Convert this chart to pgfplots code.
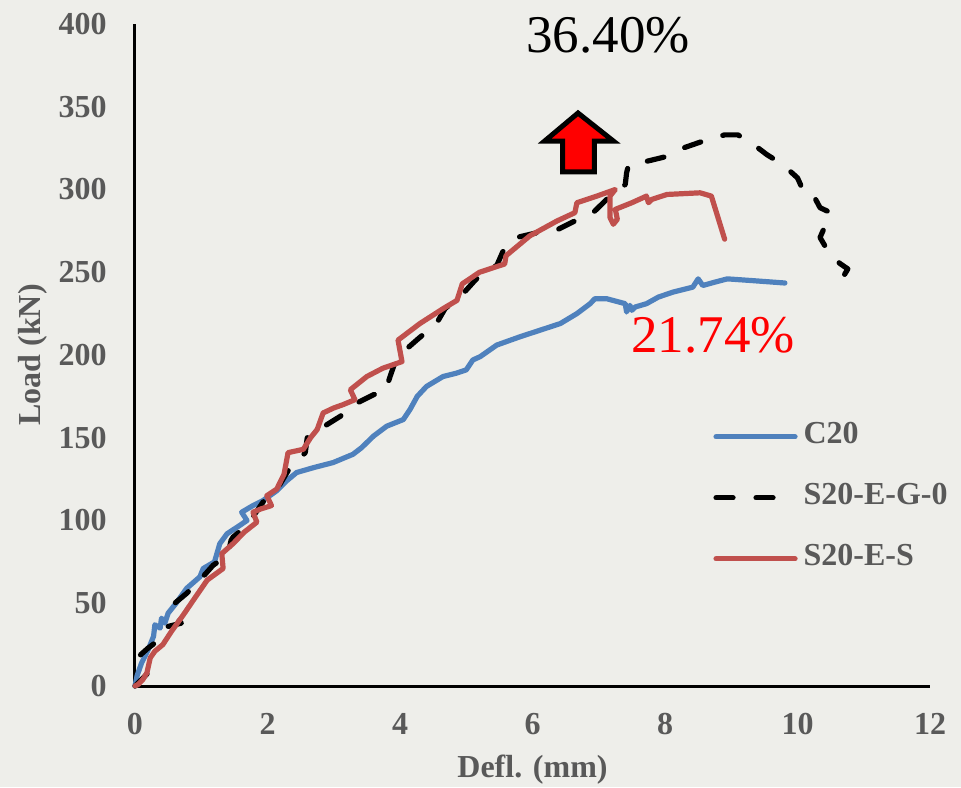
\documentclass[border=0pt]{standalone}
\usepackage{pgfplots}
\pgfplotsset{compat=1.18}
\usepackage{fontspec}
\setmainfont{Liberation Serif}
\definecolor{bg}{RGB}{238,238,234}
\definecolor{tgray}{RGB}{89,89,89}
\definecolor{cblue}{RGB}{79,129,189}
\definecolor{cred}{RGB}{192,80,77}
\begin{document}
\begin{tikzpicture}
\fill[bg] (-67.5pt,-50.5pt) rectangle (413pt,343pt);
\begin{axis}[
  at={(0,0)}, anchor=south west,
  scale only axis, width=397.5pt, height=331pt,
  xmin=0, xmax=12, ymin=0, ymax=400,
  axis x line=bottom, axis y line=left,
  axis line style={-, line width=1.5pt, black},
  xtick={0,2,...,12}, ytick={0,50,...,400},
  major tick length=0pt,
  clip=false,
  /pgf/number format/assume math mode=true,
  tick label style={font=\fontsize{16}{19}\selectfont\bfseries, text=tgray},
  yticklabel style={anchor=east, inner sep=0pt, xshift=-14pt},
  xticklabel style={anchor=north, inner sep=0pt, yshift=-13.5pt},
  xlabel={Defl. (mm)}, ylabel={Load (kN)},
  label style={font=\fontsize{16}{19}\selectfont\bfseries, text=tgray},
  xlabel style={at={(axis description cs:0.5,-0.1269)}, anchor=center},
  ylabel style={at={(axis description cs:-0.1283,0.5)}, anchor=center},
  legend style={at={(axis cs:8.725,155.3)}, anchor=north west, draw=none, fill=none,
    inner sep=0pt, row sep=23pt, column sep=3pt,
    font=\fontsize{16}{19}\selectfont\bfseries,
    nodes={inner sep=0pt, text height=0.7em, text depth=0.05em, text=tgray},
    cells={anchor=west}},
  legend image code/.code={\draw[#1] (0pt,0pt) -- (39.5pt,0pt);},
]
\addplot[cblue, line width=2.6pt, line cap=round, line join=round] coordinates {
(0,0) (0.03,6) (0.1,14) (0.2,22) (0.28,30) (0.3,37) (0.38,35) (0.4,41) (0.45,38) (0.5,44)
(0.62,50) (0.78,59) (0.98,66) (1.03,71) (1.2,75) (1.28,86) (1.39,92) (1.58,97) (1.69,100)
(1.61,105) (1.78,109) (1.93,112) (2.14,118) (2.29,124) (2.44,129) (2.7,132) (2.99,135)
(3.29,140) (3.42,144) (3.6,151) (3.8,157) (4.05,161) (4.15,167) (4.26,175) (4.4,181)
(4.65,187) (4.85,189) (5.0,191) (5.1,197) (5.21,199) (5.46,206) (5.81,211) (6.42,219)
(6.67,225) (6.87,231) (6.94,234) (7.12,234) (7.4,231) (7.42,226) (7.47,230) (7.5,227)
(7.55,229) (7.72,231) (7.9,235) (8.12,238) (8.42,241) (8.5,246) (8.57,242) (8.75,244)
(8.94,246) (9.3,245) (9.81,243.5)
};
\addplot[black, line width=2.6pt, line cap=round, line join=round, dash pattern=on 8.5pt off 11.5pt] coordinates {
(0,0) (0.1,4) (0.2,8) (0.08,15) (0.06,18) (0.2,23) (0.3,26) (0.4,30) (0.5,36) (0.7,38)
(0.6,42) (0.53,46) (0.6,50) (0.78,56) (0.98,64) (1.18,73) (1.4,79) (1.45,88) (1.48,90)
(1.69,97) (1.93,111) (2.19,122) (2.31,130) (2.57,141) (2.6,150) (2.9,158) (3.1,163)
(3.3,170) (3.6,176) (3.78,178) (3.85,187) (3.92,195) (4.08,203) (4.28,210) (4.55,219)
(4.68,228) (4.95,237) (5.13,245) (5.3,252) (5.46,254) (5.58,265) (5.76,271) (6.08,274)
(6.39,276) (6.69,282) (6.94,287) (7.17,296) (7.4,303) (7.42,310) (7.45,315) (7.72,317)
(8.03,320) (8.27,325) (8.63,330) (8.9,333) (9.1,333) (9.31,328) (9.54,321) (9.78,315)
(10.0,307) (10.09,299) (10.22,298) (10.34,289) (10.5,286) (10.46,282) (10.34,271)
(10.5,260) (10.65,255) (10.76,252) (10.7,248) (10.61,245)
};
\addplot[cred, line width=2.6pt, line cap=round, line join=round] coordinates {
(0,0) (0.05,1) (0.12,4) (0.18,8) (0.23,17) (0.3,21) (0.42,25) (0.55,33) (0.73,43) (0.9,53)
(1.09,64) (1.33,71) (1.31,80) (1.48,86) (1.65,93) (1.84,99) (1.78,105) (1.9,107) (2.06,109)
(1.99,115) (2.14,119) (2.25,128) (2.31,141) (2.54,143) (2.65,150) (2.75,155) (2.84,165)
(3.0,168) (3.14,170) (3.32,173) (3.25,179) (3.5,187) (3.74,192) (4.03,196) (3.97,209)
(4.3,219) (4.65,228) (4.86,233) (4.94,243) (5.2,250) (5.58,255) (5.6,260) (5.96,272)
(6.37,281) (6.64,286) (6.67,292) (6.97,296) (7.25,300) (7.17,296) (7.17,283) (7.22,279)
(7.28,282) (7.25,288) (7.5,292) (7.72,296) (7.75,292) (7.8,294) (8.03,297) (8.53,298)
(8.7,296) (8.9,270)
};
\legend{C20,S20-E-G-0,S20-E-S}
\node[font=\fontsize{26.5}{30}\selectfont, inner sep=0pt] at (axis cs:7.14,393.4) {36.40\%};
\node[font=\fontsize{26.5}{30}\selectfont, inner sep=0pt, text=red] at (axis cs:8.725,212.1) {21.74\%};
\draw[line width=2.5pt, fill=red, line join=miter] (axis cs:6.687,346.2) -- (axis cs:7.220,329.3)
  -- (axis cs:6.935,329.3) -- (axis cs:6.935,310.6) -- (axis cs:6.453,310.6) -- (axis cs:6.453,329.3)
  -- (axis cs:6.184,329.3) -- cycle;
\end{axis}
\pgfresetboundingbox
\path (-67.5pt,-50.5pt) rectangle (413pt,343pt);
\end{tikzpicture}
\end{document}
